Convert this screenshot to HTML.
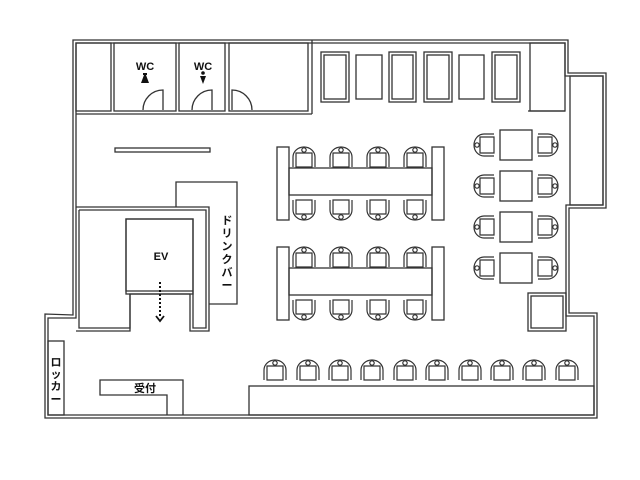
<!DOCTYPE html>
<html><head><meta charset="utf-8"><style>
html,body{margin:0;padding:0;background:#fff}
svg{display:block}
text{font-family:"Liberation Sans","Noto Sans CJK JP",sans-serif;font-weight:bold;fill:#111}
</style></head><body>
<svg width="640" height="480" viewBox="0 0 640 480" xmlns="http://www.w3.org/2000/svg">
<defs>
<g id="ch" fill="none" stroke="#333" stroke-width="1.2">
<path d="M-11 10 V0 A11 10 0 0 1 11 0 V10"/>
<path d="M-8 10 V-4 H8 V10 Z" fill="#fff"/>
<circle cx="0" cy="-7" r="2.2" fill="#fff"/>
</g>
</defs>
<g fill="none" stroke="#333" stroke-width="1.3">
<!-- outer walls -->
<path d="M73 315 V40 H568 V73 H606 V208 H569 V313 H597 V418 H45 V314 Z"/>
<path d="M76 318 V43 H565 V76 H603 V205 H566 V316 H594 V415 H48 V318 Z"/>
<!-- top rooms -->
<rect x="76" y="43" width="35" height="68"/>
<rect x="114" y="43" width="62" height="68"/>
<rect x="179" y="43" width="46" height="68"/>
<rect x="229" y="43" width="79" height="68"/>
<line x1="76" y1="114" x2="312" y2="114"/>
<path d="M312 114 V40"/>
<rect x="530" y="43" width="35" height="68"/>
<path d="M528 111 H565"/>
<rect x="570" y="76" width="33" height="129"/>
<!-- doors -->
<path d="M163 110 V90 A20 20 0 0 0 143 110"/>
<path d="M212 110 V90 A20 20 0 0 0 192 110"/>
<path d="M232 110 V90 A20 20 0 0 1 252 110"/>
<!-- shelf -->
<rect x="115" y="148" width="95" height="4"/>
<!-- EV block -->
<path d="M76 207 H209 V331 H190 V294 H130 V331 H76"/>
<path d="M79 210 H206 V328 H193 V291 H126 V219 H193 V291 M130 294 V328 H79 V210"/>
<rect x="126" y="219" width="67" height="75"/>
<!-- drink bar -->
<path d="M176 207 V182 H237 V304 H209"/>
<!-- lower left -->
<rect x="48" y="341" width="16" height="74"/>
<path d="M183 415 V380 H100 V395 H167 V415"/>
<rect x="249" y="386" width="345" height="29"/>
<rect x="528" y="293" width="38" height="38"/>
<rect x="531" y="296" width="32" height="32"/>
<!-- lounge -->
<rect x="321" y="52" width="28" height="50"/><rect x="324" y="55" width="22" height="44"/>
<rect x="356" y="55" width="26" height="44"/>
<rect x="389" y="52" width="27" height="50"/><rect x="392" y="55" width="21" height="44"/>
<rect x="424" y="52" width="28" height="50"/><rect x="427" y="55" width="22" height="44"/>
<rect x="459" y="55" width="25" height="44"/>
<rect x="492" y="52" width="28" height="50"/><rect x="495" y="55" width="22" height="44"/>
<!-- long tables -->
<rect x="277" y="147" width="12" height="73"/><rect x="432" y="147" width="12" height="73"/>
<rect x="289" y="168" width="143" height="27"/>
<rect x="277" y="247" width="12" height="73"/><rect x="432" y="247" width="12" height="73"/>
<rect x="289" y="268" width="143" height="27"/>
<!-- small tables -->
<rect x="500" y="130" width="32" height="30"/>
<rect x="500" y="171" width="32" height="30"/>
<rect x="500" y="212" width="32" height="30"/>
<rect x="500" y="253" width="32" height="30"/>
</g>
<!-- chairs -->
<g>
<use href="#ch" x="304" y="157"/><use href="#ch" x="341" y="157"/><use href="#ch" x="378" y="157"/><use href="#ch" x="415" y="157"/>
<use href="#ch" transform="translate(304 210) rotate(180)"/><use href="#ch" transform="translate(341 210) rotate(180)"/><use href="#ch" transform="translate(378 210) rotate(180)"/><use href="#ch" transform="translate(415 210) rotate(180)"/>
<use href="#ch" x="304" y="257"/><use href="#ch" x="341" y="257"/><use href="#ch" x="378" y="257"/><use href="#ch" x="415" y="257"/>
<use href="#ch" transform="translate(304 310) rotate(180)"/><use href="#ch" transform="translate(341 310) rotate(180)"/><use href="#ch" transform="translate(378 310) rotate(180)"/><use href="#ch" transform="translate(415 310) rotate(180)"/>
<use href="#ch" transform="translate(484 145) rotate(-90)"/><use href="#ch" transform="translate(548 145) rotate(90)"/>
<use href="#ch" transform="translate(484 186) rotate(-90)"/><use href="#ch" transform="translate(548 186) rotate(90)"/>
<use href="#ch" transform="translate(484 227) rotate(-90)"/><use href="#ch" transform="translate(548 227) rotate(90)"/>
<use href="#ch" transform="translate(484 268) rotate(-90)"/><use href="#ch" transform="translate(548 268) rotate(90)"/>
<use href="#ch" x="275" y="370"/><use href="#ch" x="308" y="370"/><use href="#ch" x="340" y="370"/><use href="#ch" x="372" y="370"/><use href="#ch" x="405" y="370"/>
<use href="#ch" x="437" y="370"/><use href="#ch" x="470" y="370"/><use href="#ch" x="502" y="370"/><use href="#ch" x="534" y="370"/><use href="#ch" x="567" y="370"/>
</g>
<!-- EV arrow -->
<line x1="160" y1="282" x2="160" y2="318" stroke="#111" stroke-width="2" stroke-dasharray="2,2"/>
<path d="M156 316 L160 321 L164 316" fill="none" stroke="#111" stroke-width="1.8"/>
<!-- WC icons -->
<path d="M143 73 h4 v2 h-1 l3 8 h-8 l3 -8 h-1z" fill="#111"/>
<circle cx="203" cy="73" r="1.8" fill="#111"/><path d="M200 76 h6 l-3 8z" fill="#111"/>
<!-- text -->
<text x="145" y="70" font-size="11" text-anchor="middle">WC</text>
<text x="203" y="70" font-size="11" text-anchor="middle">WC</text>
<text x="161" y="260" font-size="11" text-anchor="middle">EV</text>
<text x="145" y="392" font-size="11" text-anchor="middle">受付</text>
<g font-size="11" text-anchor="middle">
<text x="227" y="224">ド</text><text x="227" y="237">リ</text><text x="227" y="250">ン</text><text x="227" y="263">ク</text><text x="227" y="276">バ</text><text x="227" y="289">ー</text>
<text x="56" y="366">ロ</text><text x="56" y="378">ッ</text><text x="56" y="390">カ</text><text x="56" y="403">ー</text>
</g>
</svg>
</body></html>
